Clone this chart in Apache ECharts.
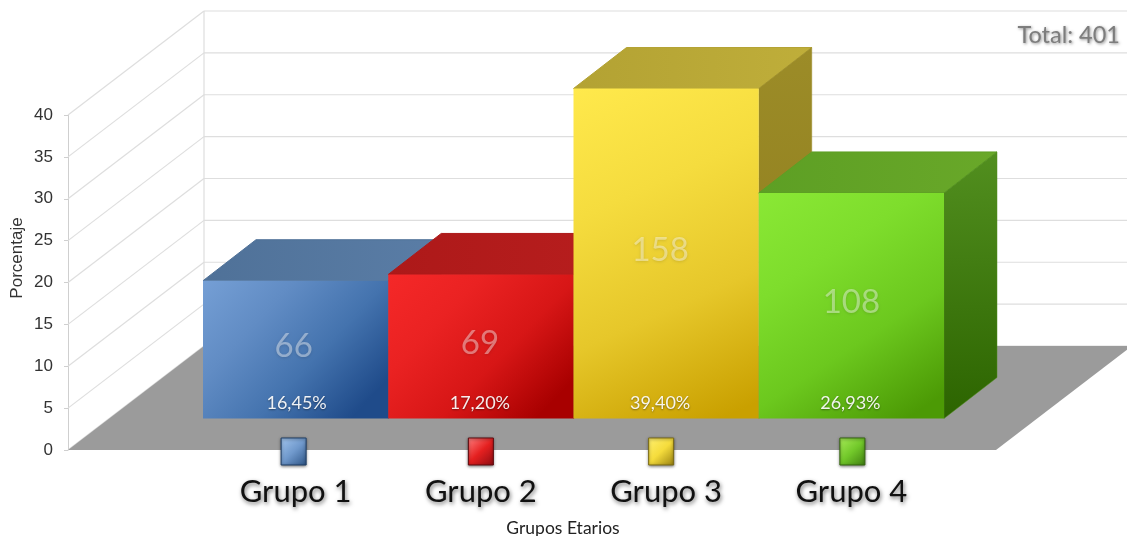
<!DOCTYPE html>
<html><head><meta charset="utf-8">
<style>html,body{margin:0;padding:0;background:#fff}#c{width:1127px;height:536px}</style>
<script src="https://cdn.jsdelivr.net/npm/echarts@6/dist/echarts.min.js"></script>
</head><body><div id="c"></div>
<script>
const categories = ['Grupo 1','Grupo 2','Grupo 3','Grupo 4'];
const percentages = [16.45,17.20,39.40,26.93];
const counts = [66,69,158,108];
const yTicks = [0,5,10,15,20,25,30,35,40];
const totalLabel = 'Total: 401';

const palette = [
 {front:['#759fd5','#618cc4','#4473ae','#1f4b8a'], top:['#4f7198','#5a7da6'], side:['#3b5f8c','#1f4070'], sw:['#a3c6ee','#7099cc','#2d5486'], edge:'#1f3f66'},
 {front:['#f52828','#ea2222','#d71616','#a80000'], top:['#ad1919','#b81e1e'], side:['#991010','#700000'], sw:['#ff8080','#e52020','#8e0c12'], edge:'#5e0a0e'},
 {front:['#ffe94c','#f5dc3e','#e6c72a','#c9a000'], top:['#b3a233','#bfae3a'], side:['#9c8c28','#8c7a1a'], sw:['#fff070','#f5dc3c','#9a8210'], edge:'#7a6a14'},
 {front:['#8ae835','#7edd2c','#6cc81e','#4c9a05'], top:['#5d9f24','#69a829'], side:['#528f1f','#2c6400'], sw:['#a8ec58','#72c82a','#3f7f10'], edge:'#35660f'}
];
const swatchNudge = [-2,0,-5,1];
const countNudge = [-2,-1,-6,0];
const pctNudge = [1,-1,-6,-1];
const WALL_DX = 136, WALL_DY = 104, AXIS_OFFSET = 135, PAGE_W = 1127;
const BAR_RISE = 31.5, BAR_DX = 53, BAR_DY = 41;
const grad = (x,y,x2,y2,cols)=>new echarts.graphic.LinearGradient(x,y,x2,y2,cols.map((c,i)=>({offset:cols.length>1?i/(cols.length-1):0,color:c})));

const chart = echarts.init(document.getElementById('c'),null,{renderer:'canvas'});
chart.setOption({
 animation:false,
 backgroundColor:'#fff',
 title:{text:totalLabel,right:2,top:18,textStyle:{fontFamily:'Lato',fontSize:23.5,fontWeight:'normal',color:'#7d7d7d',textShadowColor:'rgba(0,0,0,0.45)',textShadowBlur:3,textShadowOffsetX:1,textShadowOffsetY:1}},
 grid:{left:203,right:183,top:115,bottom:86,containLabel:false,outerBoundsMode:'none'},
 xAxis:{type:'category',data:categories,
  axisLine:{show:false},axisTick:{show:false},
  axisLabel:{margin:26,fontFamily:'Lato',fontSize:31,color:'#111',textShadowColor:'rgba(0,0,0,0.55)',textShadowBlur:4,textShadowOffsetX:1,textShadowOffsetY:2},
  name:'Grupos Etarios',nameLocation:'middle',nameGap:69,
  nameTextStyle:{fontFamily:'Lato',fontSize:17.5,color:'#222',padding:[0,21,0,0]}},
 yAxis:{type:'value',min:0,max:40,interval:5,position:'left',offset:AXIS_OFFSET,
  axisLine:{show:true,lineStyle:{color:'#cfcfcf',width:1}},
  axisTick:{show:true,length:4,lineStyle:{color:'#cfcfcf'}},
  axisLabel:{margin:15,fontFamily:'Liberation Sans',fontSize:17,color:'#333'},
  splitLine:{show:false}},
 graphic:[{type:'text',x:17,y:258,rotation:Math.PI/2,style:{text:'Porcentaje',font:'17px "Liberation Sans"',fill:'#333',align:'center',verticalAlign:'middle'}}],
 series:[
  {type:'custom',z:1,clip:false,silent:true,coordinateSystem:'cartesian2d',data:yTicks.map(v=>[0,v]),
   renderItem(params,api){
    const y=api.coord([0,api.value(1)])[1], x0=params.coordSys.x-AXIS_OFFSET, s={stroke:'#dedede',lineWidth:1.2};
    return {type:'group',children:[
     {type:'line',shape:{x1:x0,y1:y,x2:x0+WALL_DX,y2:y-WALL_DY},style:s},
     {type:'line',shape:{x1:x0+WALL_DX,y1:y-WALL_DY,x2:PAGE_W,y2:y-WALL_DY},style:s},
     api.value(1)===0?{type:'line',shape:{x1:x0+WALL_DX,y1:y-WALL_DY,x2:x0+WALL_DX,y2:y-WALL_DY-api.size([0,40])[1]},style:s}:{type:'group'}
    ]};
   }},
  {type:'custom',z:2,clip:false,silent:true,coordinateSystem:'cartesian2d',data:[[0,0]],
   renderItem(params,api){
    const y=api.coord([0,0])[1], cs=params.coordSys, x0=cs.x-AXIS_OFFSET, xR=cs.x+cs.width+52;
    return {type:'polygon',shape:{points:[[x0,y],[xR,y],[xR+WALL_DX,y-WALL_DY],[x0+WALL_DX,y-WALL_DY]]},style:{fill:'#9b9b9b'}};
   }},
  {type:'custom',z:3,clip:false,silent:true,coordinateSystem:'cartesian2d',
   data:percentages.map((p,i)=>[i,p,counts[i]]),
   renderItem(params,api){
    const i=api.value(0), p=palette[i], w=api.size([1,0])[0];
    const b=api.coord([i,0]), t=api.coord([i,api.value(1)]);
    const L=b[0]-w/2, R=b[0]+w/2, yB=b[1]-BAR_RISE, yT=t[1]-BAR_RISE;
    const cx=b[0];
    return {type:'group',children:[
     {type:'polygon',shape:{points:[[L,yT],[R,yT],[R+BAR_DX,yT-BAR_DY],[L+BAR_DX,yT-BAR_DY]]},style:{fill:grad(0,0,1,0,p.top),stroke:p.top[0],lineWidth:1}},
     {type:'polygon',shape:{points:[[R,yT],[R+BAR_DX,yT-BAR_DY],[R+BAR_DX,yB-BAR_DY],[R,yB]]},style:{fill:grad(0,0,0,1,p.side),stroke:p.side[0],lineWidth:0.5}},
     {type:'rect',shape:{x:L,y:yT,width:w,height:yB-yT},style:{fill:grad(0,0,0.8,1,p.front)}},
     {type:'text',x:cx+countNudge[i],y:(yT+yB)/2-3,style:{text:String(api.value(2)),font:'400 33px Lato',fill:'rgba(255,255,255,0.42)',align:'center',verticalAlign:'middle',textShadowColor:'rgba(0,0,0,0.3)',textShadowBlur:3,textShadowOffsetY:1}},
     {type:'text',x:cx+pctNudge[i],y:yB-15,style:{text:api.value(1).toFixed(2).replace('.',',')+'%',font:'18px Lato',fill:'rgba(255,255,255,0.92)',align:'center',verticalAlign:'middle',textShadowColor:'rgba(0,0,0,0.45)',textShadowBlur:2,textShadowOffsetY:1}},
     {type:'rect',shape:{x:cx-12.5+swatchNudge[i],y:b[1]-12,width:25,height:27},style:{fill:grad(0,0,1,1,p.sw),stroke:p.edge,lineWidth:1,shadowColor:'rgba(0,0,0,0.5)',shadowBlur:3,shadowOffsetY:1}}
    ]};
   }}
 ]
});
</script></body></html>
